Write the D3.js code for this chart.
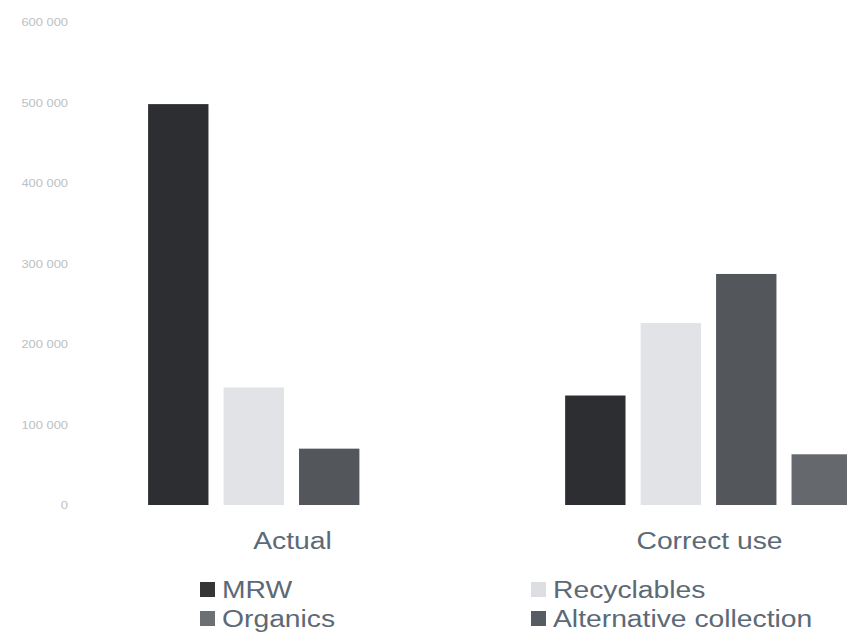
<!DOCTYPE html>
<html>
<head>
<meta charset="utf-8">
<script src="https://cdn.jsdelivr.net/npm/d3@7"></script>
<style>
  html, body { margin: 0; padding: 0; background: #ffffff; }
  svg { display: block; }
  text { font-family: "Liberation Sans", Arial, sans-serif; }
</style>
</head>
<body>
<svg id="chart" width="847" height="635"></svg>
<script>
// Waste quantities per category, actual vs. correct use
const groups = ["Actual", "Correct use"];
const seriesNames = ["MRW", "Recyclables", "Organics", "Alternative collection"];
const actualValues = [498000, 146000, 70000, 0];
const correctUseValues = [136000, 226000, 287000, 63000];
const seriesColors = ["#2c2e31", "#e1e3e7", "#53565a", "#65686c"];
const legendColors = ["#333537", "#dcdee1", "#6d7073", "#575c63"];
const yTickValues = [0, 100000, 200000, 300000, 400000, 500000, 600000];

const table = groups.map((g, i) => ({
  group: g,
  values: seriesNames.map((s, j) => ({
    series: s,
    value: (i === 0 ? actualValues : correctUseValues)[j],
    color: seriesColors[j]
  }))
}));

const svg = d3.select("#chart");
const textColor = "#5c6977";
const sx = 1.23; // horizontal stretch applied to all labels

const y = d3.scaleLinear().domain([0, 600000]).range([505, 22]);

const x0 = d3.scaleBand()
  .domain(groups)
  .range([133, 867])
  .paddingInner(0.24)
  .paddingOuter(0);

const x1 = d3.scaleBand()
  .domain(seriesNames)
  .range([0, x0.bandwidth()])
  .padding(0.2);

// Y axis: labels only, no line or ticks
const fmt = v => d3.format(",")(v).replace(/,/g, " ");
const yAxis = d3.axisLeft(y).tickValues(yTickValues).tickFormat(fmt).tickSize(0).tickPadding(0);
const ag = svg.append("g").attr("transform", "translate(68,0)").call(yAxis);
ag.select(".domain").remove();
ag.selectAll(".tick text")
  .attr("x", 0)
  .attr("dy", "0.35em")
  .attr("transform", `scale(${sx},1)`)
  .attr("fill", "#bcc0c4")
  .style("font-size", "10.5px")
  .style("font-family", "'Liberation Sans', Arial, sans-serif");

// Bars
const gGroups = svg.append("g").selectAll("g")
  .data(table)
  .join("g")
  .attr("transform", d => `translate(${x0(d.group)},0)`);

gGroups.selectAll("rect")
  .data(d => d.values)
  .join("rect")
  .attr("x", d => x1(d.series))
  .attr("width", x1.bandwidth())
  .attr("y", d => y(d.value))
  .attr("height", d => y(0) - y(d.value))
  .attr("fill", d => d.color);

// Category labels
svg.append("g").selectAll("text")
  .data(groups)
  .join("text")
  .attr("transform", g => `translate(${x0(g) + x0.bandwidth() / 2 + 1},549) scale(${sx},1)`)
  .attr("text-anchor", "middle")
  .attr("fill", textColor)
  .style("font-size", "23px")
  .text(g => g);

// Legend: two columns, two rows
const legendPos = [
  { x: 200, y: 582 },
  { x: 531, y: 582 },
  { x: 200, y: 611 },
  { x: 531, y: 611 }
];
const legend = svg.append("g").selectAll("g")
  .data(seriesNames)
  .join("g")
  .attr("transform", (d, i) => `translate(${legendPos[i].x},${legendPos[i].y})`);

legend.append("rect")
  .attr("width", 15)
  .attr("height", 15)
  .attr("fill", (d, i) => legendColors[i]);

legend.append("text")
  .attr("transform", `translate(22,16) scale(${sx},1)`)
  .attr("fill", textColor)
  .style("font-size", "23px")
  .text(d => d);
</script>
</body>
</html>
